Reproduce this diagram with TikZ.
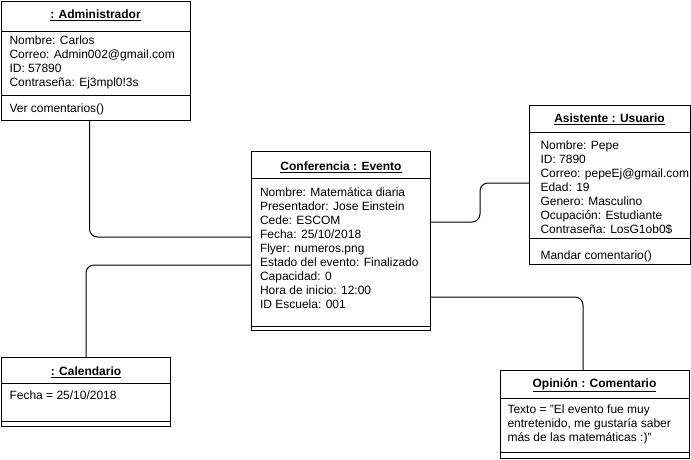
\documentclass[tikz,border=0pt]{standalone}
\usepackage{fontspec}
\setmainfont{Liberation Sans}
\begin{document}
\begin{tikzpicture}[x=1pt,y=-1pt,line width=1pt,
  every node/.style={font=\fontsize{12}{14}\selectfont},
  box/.style={draw,anchor=north west,inner sep=0,outer sep=0},
  titletext/.style={font=\fontsize{12}{14}\selectfont\bfseries,anchor=center,inner sep=0},
  body/.style={anchor=base west,align=left,inner sep=0},
  conn/.style={draw,rounded corners=8pt}]
\useasboundingbox (0,0) rectangle (691,459);

% Administrador
\node[box,minimum width=189pt,minimum height=119pt] (adm) at (1,1) {};
\draw (adm.west |- 0,31) -- (adm.east |- 0,31);
\draw (adm.west |- 0,95) -- (adm.east |- 0,95);
\node[titletext] (admt) at (95.5,15) {\underline{: Administrador}};
\node[body] (admb) at (9,86.5) {Nombre: Carlos\\Correo: Admin002@gmail.com\\ID: 57890\\Contraseña: Ej3mpl0!3s};
\node[body] (admm) at (9,112.5) {Ver comentarios()};

% Conferencia
\node[box,minimum width=179pt,minimum height=179pt] (conf) at (251.5,151) {};
\draw (conf.west |- 0,178) -- (conf.east |- 0,178);
\draw (conf.west |- 0,326) -- (conf.east |- 0,326);
\node[titletext] (conft) at (341,167.5) {\underline{Conferencia : Evento}};
\node[body] (confb) at (259.5,308.5) {Nombre: Matemática diaria\\Presentador: Jose Einstein\\Cede: ESCOM\\Fecha: 25/10/2018\\Flyer: numeros.png\\Estado del evento: Finalizado\\Capacidad: 0\\Hora de inicio: 12:00\\ID Escuela: 001};

% Asistente
\node[box,minimum width=160.5pt,minimum height=159pt] (asis) at (529.5,105) {};
\draw (asis.west |- 0,132) -- (asis.east |- 0,132);
\draw (asis.west |- 0,238) -- (asis.east |- 0,238);
\node[titletext] (asist) at (609.5,119) {\underline{Asistente : Usuario}};
\node[body] (asisb) at (540,233.5) {Nombre: Pepe\\ID: 7890\\Correo: pepeEj@gmail.com\\Edad: 19\\Genero: Masculino\\Ocupación: Estudiante\\Contraseña: LosG1ob0\$};
\node[body] (asism) at (540,259.5) {Mandar comentario()};

% Calendario
\node[box,minimum width=169pt,minimum height=69pt] (cal) at (1.5,357) {};
\draw (cal.west |- 0,383) -- (cal.east |- 0,383);
\draw (cal.west |- 0,421) -- (cal.east |- 0,421);
\node[titletext] (calt) at (86,372.5) {\underline{: Calendario}};
\node[body] (calb) at (9,399.5) {Fecha = 25/10/2018};

% Opinion
\node[box,minimum width=189pt,minimum height=88pt] (op) at (500,370) {};
\draw (op.west |- 0,398) -- (op.east |- 0,398);
\draw (op.west |- 0,452) -- (op.east |- 0,452);
\node[titletext] (opt) at (594.5,385) {\underline{Opinión : Comentario}};
\node[body] (opb) at (507,441.5) {Texto = "El evento fue muy\\entretenido, me gustaría saber\\más de las matemáticas :)"};

% connectors
\draw[conn] ([xshift=-6pt]adm.south) |- (conf.west |- 0,237);
\draw[conn] (cal.north) |- (conf.west |- 0,265);
\draw[conn] (conf.east |- 0,222) -- (480,222) -- (480,183) -- (asis.west |- 0,183);
\draw[conn] (conf.east |- 0,297) -| ([xshift=-11.5pt]op.north);
\end{tikzpicture}
\end{document}
